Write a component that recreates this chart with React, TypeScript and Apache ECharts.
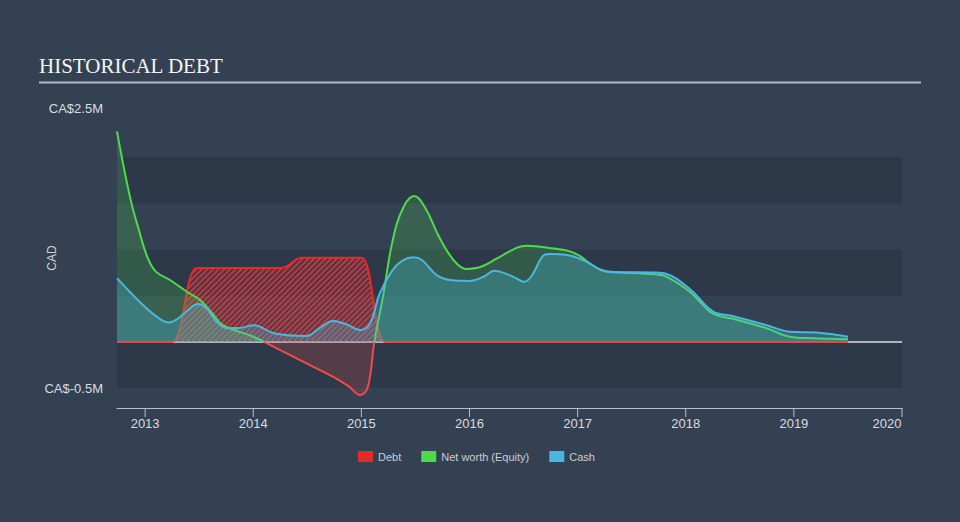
import React, { useEffect, useRef } from 'react';
import * as echarts from 'echarts';

// ---- data (values in CA$ millions, x in decimal years) ----
const seriesNames = ['Debt', 'Net worth (Equity)', 'Cash'];

const debtYears = [2012.74, 2013.0, 2013.25, 2013.48, 2013.75, 2014.0, 2014.25, 2014.46, 2014.75, 2015.0, 2015.22, 2015.5, 2016.0, 2016.5, 2017.0, 2017.5, 2018.0, 2018.5, 2019.0, 2019.5];
const debtValues = [0, 0, 0, 0.8, 0.8, 0.8, 0.8, 0.91, 0.91, 0.91, 0, 0, 0, 0, 0, 0, 0, 0, 0, 0];

const equityYears = [2012.74, 2012.86, 2012.95, 2013.02, 2013.1, 2013.23, 2013.39, 2013.51, 2013.62, 2013.72, 2013.97, 2014.1, 2014.31, 2014.52, 2014.74, 2014.88, 2014.99, 2015.06, 2015.12, 2015.2, 2015.29, 2015.39, 2015.49, 2015.6, 2015.7, 2015.79, 2015.88, 2015.97, 2016.1, 2016.25, 2016.44, 2016.53, 2016.78, 2016.93, 2017.02, 2017.11, 2017.21, 2017.27, 2017.73, 2017.82, 2018.04, 2018.22, 2018.31, 2018.47, 2018.75, 2018.96, 2019.18, 2019.5];
const equityValues = [2.28, 1.57, 1.18, 0.92, 0.76, 0.67, 0.54, 0.45, 0.31, 0.18, 0.07, 0, -0.125, -0.25, -0.38, -0.48, -0.577, -0.49, 0, 0.49, 1.1, 1.46, 1.58, 1.43, 1.18, 0.99, 0.85, 0.79, 0.81, 0.9, 1.02, 1.04, 1.01, 0.98, 0.93, 0.85, 0.78, 0.76, 0.73, 0.705, 0.54, 0.33, 0.28, 0.24, 0.146, 0.055, 0.038, 0.027];

const cashYears = [2012.74, 2012.86, 2012.98, 2013.11, 2013.22, 2013.29, 2013.39, 2013.49, 2013.57, 2013.66, 2013.75, 2013.87, 2014.0, 2014.2, 2014.49, 2014.61, 2014.74, 2014.86, 2014.99, 2015.08, 2015.17, 2015.29, 2015.38, 2015.48, 2015.56, 2015.7, 2015.82, 2016.0, 2016.13, 2016.23, 2016.31, 2016.43, 2016.5, 2016.57, 2016.68, 2016.74, 2016.9, 2017.02, 2017.11, 2017.21, 2017.3, 2017.73, 2017.81, 2018.04, 2018.25, 2018.43, 2018.75, 2018.96, 2019.21, 2019.5];
const cashValues = [0.69, 0.54, 0.4, 0.27, 0.21, 0.24, 0.34, 0.41, 0.36, 0.22, 0.15, 0.15, 0.18, 0.09, 0.063, 0.146, 0.225, 0.19, 0.128, 0.2, 0.525, 0.78, 0.88, 0.915, 0.886, 0.72, 0.67, 0.66, 0.705, 0.77, 0.75, 0.69, 0.65, 0.705, 0.93, 0.95, 0.94, 0.9, 0.85, 0.785, 0.76, 0.75, 0.74, 0.57, 0.33, 0.28, 0.18, 0.11, 0.1, 0.055];

const xMin = 2012.74;
const xMax = 2020;
const yLabelValues = [2.5, -0.5];

const BG = '#344152';
const BAND = '#2d3949';
const RED = '#e8292b';
const NEG = '#f04a4a';
const GREEN = '#4ddb4d';
const BLUE = '#4ab8de';
const AXIS = '#b9bfc7';
const TEXT = '#d9dce0';

const HATCH = {
  symbol: 'rect',
  dashArrayX: [1, 0],
  dashArrayY: [1.3, 1.9],
  rotation: -Math.PI / 4,
  color: 'rgba(236,60,60,0.7)',
};

const zip = (xs: number[], ys: number[]) => xs.map((x, i) => [x, ys[i]]);

export default function App() {
  const ref = useRef<HTMLDivElement>(null);
  useEffect(() => {
    const chart = echarts.init(ref.current!, null, { renderer: 'svg' });
    chart.setOption({
      animation: false,
      backgroundColor: BG,
      textStyle: { fontFamily: '"Liberation Sans", Arial, sans-serif' },
      grid: { left: 117, right: 58, top: 111, bottom: 134 },
      xAxis: {
        type: 'value',
        min: xMin,
        max: xMax,
        splitNumber: 7,
        offset: 20,
        axisLine: { show: true, onZero: false, lineStyle: { color: AXIS, width: 1 } },
        axisTick: { show: false },
        axisLabel: {
          showMinLabel: false,
          formatter: (v: number) => {
            if (Math.abs(v - Math.round(v)) > 1e-6) return '';
            const y = Math.round(v);
            return y === xMax ? `{t|}\n{r|${y}}` : `{t|}\n{y|${y}}`;
          },
          margin: 0,
          rich: {
            t: { width: 1, height: 9, backgroundColor: AXIS },
            y: { color: TEXT, fontSize: 13, lineHeight: 12 },
            r: { color: TEXT, fontSize: 13, lineHeight: 12, padding: [0, 30, 0, 0] },
          },
        },
        splitLine: { show: false },
      },
      yAxis: {
        type: 'value',
        min: -0.5,
        max: 2.5,
        interval: 0.5,
        axisLine: { show: false },
        axisTick: { show: false },
        axisLabel: {
          formatter: (v: number) => {
            if (!yLabelValues.some((y) => Math.abs(y - v) < 1e-9)) return '';
            return v > 0 ? `{top|CA$${v}M}` : `CA$${v}M`;
          },
          color: TEXT,
          fontSize: 13,
          margin: 14,
          rich: { top: { color: TEXT, fontSize: 13, padding: [0, 0, 5, 0] } },
        },
        splitLine: { show: false },
        splitArea: { show: true, areaStyle: { color: [BAND, 'rgba(0,0,0,0)'] } },
      },
      visualMap: {
        type: 'piecewise',
        show: false,
        seriesIndex: 1,
        dimension: 1,
        pieces: [
          { gte: -10, lt: 0, color: NEG },
          { gte: 0, lte: 10, color: GREEN },
        ],
      },
      legend: {
        left: 358,
        top: 451,
        padding: 0,
        itemWidth: 15,
        itemHeight: 11,
        itemGap: 20,
        icon: 'rect',
        textStyle: { color: '#c9cdd3', fontSize: 11 },
        data: [
          { name: seriesNames[0], itemStyle: { color: RED, decal: 'none' } },
          { name: seriesNames[1], itemStyle: { color: GREEN } },
          { name: seriesNames[2], itemStyle: { color: BLUE } },
        ],
      },
      graphic: [
        {
          type: 'text',
          x: 39,
          y: 66,
          style: {
            text: 'HISTORICAL DEBT',
            fill: '#f4f5f7',
            font: '21px "Liberation Serif", "Times New Roman", serif',
            verticalAlign: 'middle',
          },
        },
        {
          type: 'line',
          shape: { x1: 39, y1: 82.5, x2: 921, y2: 82.5 },
          style: { stroke: '#b4b9c0', lineWidth: 2 },
        },
        {
          type: 'text',
          x: 52,
          y: 258,
          rotation: Math.PI / 2,
          style: {
            text: 'CAD',
            fill: '#cfd3d8',
            font: '12px "Liberation Sans", Arial, sans-serif',
            align: 'center',
            verticalAlign: 'middle',
          },
        },
      ],
      series: [
        {
          name: seriesNames[0],
          type: 'line',
          data: zip(debtYears, debtValues),
          smooth: 0.5,
          smoothMonotone: 'x',
          symbol: 'none',
          z: 2,
          lineStyle: { color: RED, width: 2, decal: HATCH },
          itemStyle: { color: RED, decal: HATCH },
          areaStyle: { color: 'rgba(232,41,43,0.16)', opacity: 1 },
          markLine: {
            z: 1,
            silent: true,
            symbol: 'none',
            label: { show: false },
            lineStyle: { color: '#b0b5bc', width: 2, type: 'solid' },
            data: [{ yAxis: 0 }],
          },
        },
        {
          name: seriesNames[1],
          type: 'line',
          data: zip(equityYears, equityValues),
          smooth: 0.4,
          symbol: 'none',
          clip: false,
          z: 3,
          lineStyle: { width: 2 },
          areaStyle: { opacity: 0.2 },
        },
        {
          name: seriesNames[2],
          type: 'line',
          data: zip(cashYears, cashValues),
          smooth: 0.4,
          symbol: 'none',
          z: 4,
          lineStyle: { color: BLUE, width: 2 },
          itemStyle: { color: BLUE },
          areaStyle: { color: 'rgba(74,184,222,0.3)', opacity: 1 },
        },
      ],
    });
    return () => chart.dispose();
  }, []);
  return <div ref={ref} style={{ position: 'fixed', left: 0, top: 0, width: 960, height: 522 }} />;
}
